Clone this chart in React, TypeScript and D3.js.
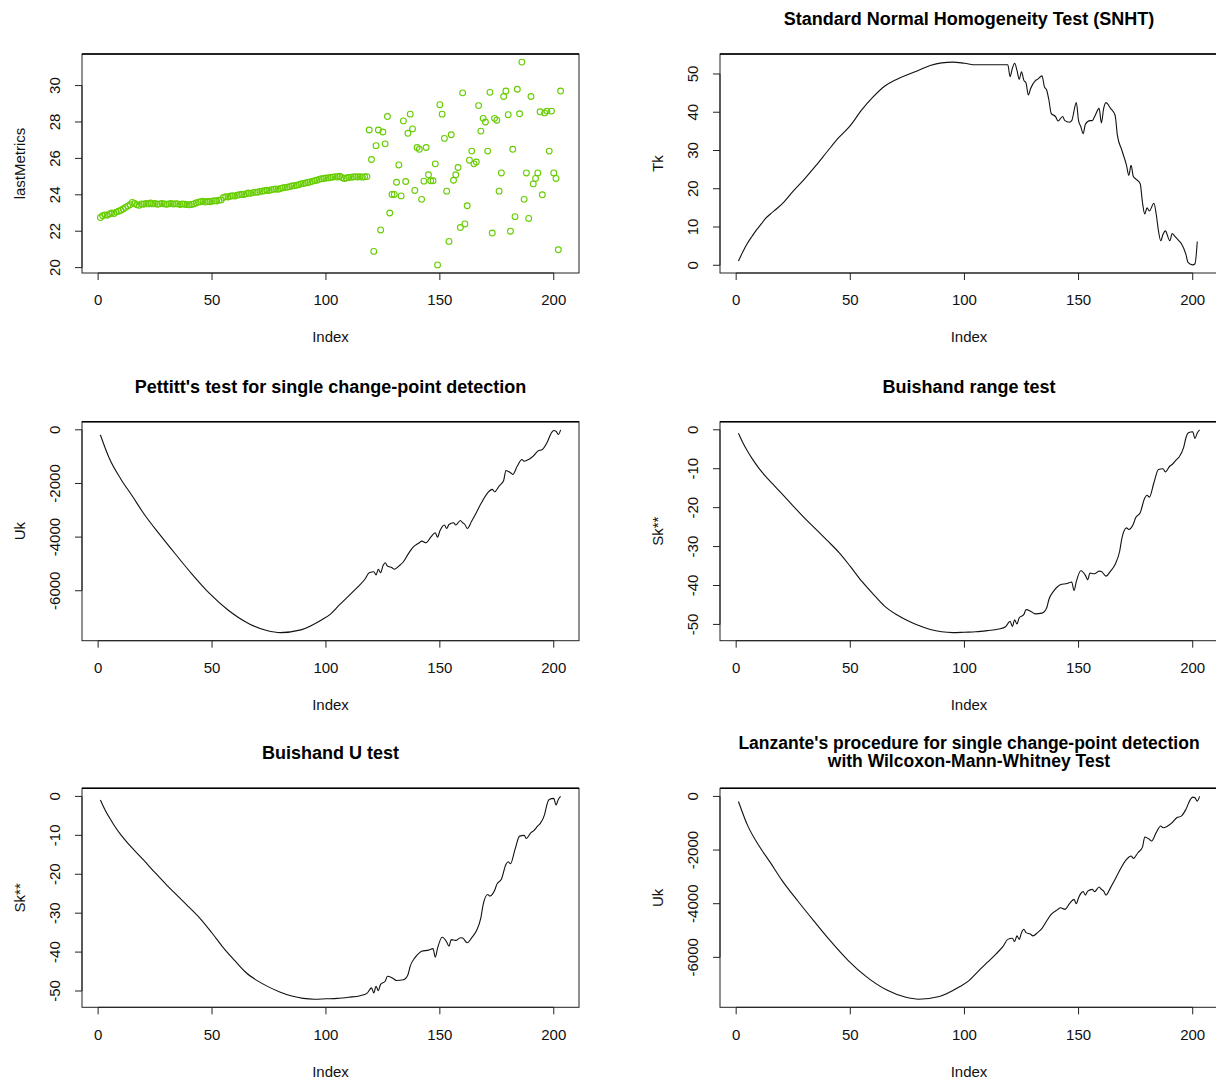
import React from "react";
import * as d3 from "d3";

// ---------- data ----------
const lastMetrics = [
  22.75, 22.85, 22.9, 22.88, 22.95, 23.0, 22.97, 23.05, 23.1, 23.15,
  23.22, 23.3, 23.38, 23.45, 23.58, 23.52, 23.45, 23.42, 23.5, 23.48,
  23.52, 23.5, 23.55, 23.5, 23.52, 23.48, 23.5, 23.53, 23.5, 23.48,
  23.5, 23.52, 23.49, 23.51, 23.5, 23.47, 23.5, 23.48, 23.46, 23.45,
  23.47, 23.5, 23.55, 23.6, 23.62, 23.65, 23.6, 23.63, 23.62, 23.65,
  23.68, 23.66, 23.7, 23.72, 23.85, 23.9, 23.88, 23.92, 23.95, 23.93,
  23.98, 24.0, 24.03, 24.02, 24.06, 24.1, 24.08, 24.12, 24.15, 24.14,
  24.18, 24.2, 24.22, 24.25, 24.23, 24.28, 24.3, 24.32, 24.3, 24.35,
  24.38, 24.4, 24.42, 24.45, 24.48, 24.5, 24.52, 24.55, 24.6, 24.62,
  24.65, 24.68, 24.7, 24.74, 24.78, 24.8, 24.85, 24.88, 24.9, 24.92,
  24.93, 24.95, 24.97, 25.0, 24.98, 25.02, 24.95, 24.9, 24.92, 24.95,
  24.97, 24.98, 25.0, 24.98, 25.0, 24.97, 24.99, 25.0,
  27.56, 25.94, 20.89, 26.7, 27.56, 22.07, 27.45, 26.8, 28.3, 23.0,
  24.02, 24.02, 24.69, 25.64, 23.94, 28.06, 24.73, 27.38, 28.43, 27.62,
  24.24, 26.6, 26.5, 23.75, 24.75, 26.6, 25.1, 24.77, 24.77, 25.7,
  20.15, 28.95, 28.43, 27.1, 24.2, 21.44, 27.3, 24.8, 25.1, 25.5,
  22.2, 29.6, 22.4, 23.4, 25.9, 26.4, 25.7, 25.8, 28.9, 27.5,
  28.2, 28.0, 26.4, 29.63, 21.9, 28.2, 28.1, 24.2, 25.2, 29.4,
  29.7, 28.4, 22.0, 26.5, 22.8, 29.8, 28.45, 31.29, 23.75, 25.2,
  22.7, 29.4, 24.6, 24.9, 25.2, 28.56, 24.0, 28.5, 28.6, 26.4,
  28.6, 25.2, 24.9, 20.98, 29.7,
];
const lastMetricsIndex = lastMetrics.map((_, i) => i + 1);

const snhtIndex = [1,3,5,7,9,11,13,15,18,21,25,30,35,40,45,50,55,60,65,70,75,80,85,90,95,100,105,110,115,119,120,121,122,123,124,125,126,127,128,129,131,132,134,135,136,137,138,140,141,143,144,146,147,149,150,151,152,153,155,156,157,159,160,161,162,164,166,167,169,171,172,173,174,175,177,178,179,180,181,183,184,185,186,187,188,190,191,192,194,195,197,198,200,201,202];
const snhtTk = [1.1,3.6,5.8,7.6,9.3,10.8,12.3,13.4,14.9,16.6,19.4,22.6,26.1,29.8,33.4,36.5,40.6,44.0,46.8,48.5,49.8,51.0,52.2,52.9,53.1,52.8,52.4,52.4,52.4,52.4,49.3,51.5,52.8,51.0,48.6,50.6,48.4,47.6,44.5,46.2,48.2,48.6,49.5,46.7,45.8,43.2,39.7,38.8,37.7,38.9,37.8,37.4,37.8,42.5,37.8,36.2,34.4,36.9,37.8,37.8,38.8,41.0,37.2,41.0,42.5,41.0,39.2,34.0,30.0,26.1,23.5,26.1,23.2,22.6,21.3,16.4,13.4,15.0,14.2,16.2,13.4,9.0,6.4,8.1,9.0,6.4,8.3,7.7,6.4,5.7,2.9,0.7,0.1,0.4,6.2];

const pettittIndex = [1,5,10,15,20,27,34,41,49,57,66,74,80,89,98,102,106,110,114,117,119,121,122,123,124,125,126,127,129,130,132,134,136,138,141,142,144,146,148,149,150,152,153,154,156,157,159,160,161,162,164,166,168,171,173,174,176,178,179,181,182,184,186,187,189,191,193,195,197,199,200,201,202,203];
const pettittUk = [-190,-1080,-1840,-2470,-3120,-3900,-4640,-5360,-6110,-6720,-7220,-7480,-7560,-7460,-7090,-6870,-6520,-6190,-5860,-5580,-5330,-5290,-5410,-5200,-5330,-5080,-4955,-5080,-5140,-5200,-5080,-4920,-4645,-4400,-4210,-4150,-4210,-4000,-3840,-4000,-3775,-3550,-3680,-3530,-3465,-3550,-3380,-3465,-3530,-3680,-3400,-3090,-2760,-2350,-2220,-2310,-2100,-1890,-1515,-1600,-1665,-1350,-1105,-1170,-1105,-980,-795,-735,-485,-110,-25,-50,-175,0];

const buishandIndex = [1,3,5,7,10,13,16,20,25,30,35,40,45,50,55,60,65,70,75,80,85,90,95,100,105,110,115,118,120,121,122,123,124,126,127,129,131,134,136,137,139,141,142,145,147,148,149,151,153,154,155,157,159,160,162,164,166,168,169,171,172,174,175,177,179,180,181,183,185,187,188,190,191,193,194,196,197,198,200,201,202,203];
const buishandSk = [-0.9,-3.4,-5.5,-7.4,-9.9,-12.0,-13.9,-16.4,-19.6,-22.7,-25.6,-28.5,-31.5,-35.1,-38.9,-42.2,-45.3,-47.4,-49.0,-50.3,-51.3,-51.9,-52.1,-52.0,-51.9,-51.6,-51.2,-50.6,-49.2,-50.5,-48.8,-49.9,-48.3,-47.5,-46.2,-46.6,-47.3,-47.1,-45.8,-43.6,-41.5,-40.2,-39.8,-39.5,-39.1,-41.3,-39.0,-36.2,-37.4,-38.5,-36.8,-37.0,-36.3,-36.4,-37.6,-36.3,-34.6,-31.2,-27.8,-25.2,-25.6,-24.2,-22.6,-21.3,-17.5,-16.8,-17.3,-13.6,-10.2,-10.0,-10.8,-9.3,-8.9,-7.6,-7.0,-4.6,-2.1,-0.8,-0.5,-2.2,-0.8,0.0];

// Lanzante and Buishand U panels show the same curves as Pettitt and Buishand range
const lanzanteIndex = pettittIndex;
const lanzanteUk = pettittUk;
const buishandUIndex = buishandIndex;
const buishandUSk = buishandSk;

const indexTicks = [0, 50, 100, 150, 200];
const lastMetricsTicks = [20, 22, 24, 26, 28, 30];
const tkTicks = [0, 10, 20, 30, 40, 50];
const ukTicks = [0, -2000, -4000, -6000];
const skTicks = [0, -10, -20, -30, -40, -50];

const titles = {
  snht: ["Standard Normal Homogeneity Test (SNHT)"],
  pettitt: ["Pettitt's test for single change-point detection"],
  buishandRange: ["Buishand range test"],
  buishandU: ["Buishand U test"],
  lanzante: ["Lanzante's procedure for single change-point detection", "with Wilcoxon-Mann-Whitney Test"],
};

// ---------- layout ----------
const W = 1216;
const H = 1080;
const colLeft = [82, 720];
const colWidth = [497, 498];
const rowTop = [54, 421.7, 788.3];
const panelH = 219;
const FONT = "'Liberation Sans', Arial, Helvetica, sans-serif";

function extendR(ext: [number, number]): [number, number] {
  const d = (ext[1] - ext[0]) * 0.04;
  return [ext[0] - d, ext[1] + d];
}

type Spec = {
  col: number;
  row: number;
  title: string[];
  ylab: string;
  xs: number[];
  ys: number[];
  yTicks: number[];
  kind: "points" | "line";
};

function Panel({ spec }: { spec: Spec }) {
  const left = colLeft[spec.col];
  const width = colWidth[spec.col];
  const top = rowTop[spec.row];
  const bottom = top + panelH;
  const x = d3.scaleLinear().domain(extendR([1, 203])).range([left, left + width]);
  const yExt = d3.extent(spec.ys) as [number, number];
  const y = d3.scaleLinear().domain(extendR(yExt)).range([bottom, top]);
  const line = d3
    .line<number>()
    .x((_, i) => x(spec.xs[i]))
    .y((d) => y(d))
    .curve(d3.curveMonotoneX);
  const cx = left + width / 2;
  const tickLen = 7;
  const yt = spec.yTicks;
  return (
    <g>
      {spec.title.length === 1 ? (
        <text x={cx} y={top - 35.5} dy="0.35em" textAnchor="middle" fontWeight="bold" fontSize={18} fill="#000">
          {spec.title[0]}
        </text>
      ) : (
        spec.title.map((t, i) => (
          <text key={i} x={cx} y={top - 45 + i * 18} dy="0.35em" textAnchor="middle" fontWeight="bold" fontSize={17.5} fill="#000">
            {t}
          </text>
        ))
      )}
      {spec.kind === "line" ? (
        <path d={line(spec.ys) || ""} fill="none" stroke="#111" strokeWidth={1.1} strokeLinejoin="round" />
      ) : (
        spec.ys.map((v, i) => (
          <circle key={i} cx={x(spec.xs[i])} cy={y(v)} r={2.9} fill="none" stroke="#66CD00" strokeWidth={1.1} />
        ))
      )}
      <rect x={left} y={top} width={width} height={panelH} fill="none" stroke="#222" strokeWidth={1} />
      <line x1={left} x2={left + width} y1={top} y2={top} stroke="#000" strokeWidth={1.6} />
      {/* x axis */}
      <line x1={x(indexTicks[0])} x2={x(indexTicks[indexTicks.length - 1])} y1={bottom} y2={bottom} stroke="#222" />
      {indexTicks.map((t) => (
        <g key={"x" + t}>
          <line x1={x(t)} x2={x(t)} y1={bottom} y2={bottom + tickLen} stroke="#222" />
          <text x={x(t)} y={bottom + 27} dy="0.35em" textAnchor="middle" fontSize={15} fill="#111">
            {t}
          </text>
        </g>
      ))}
      <text x={cx} y={bottom + 64} dy="0.35em" textAnchor="middle" fontSize={15} fill="#111">
        Index
      </text>
      {/* y axis */}
      <line x1={left} x2={left} y1={y(yt[0])} y2={y(yt[yt.length - 1])} stroke="#222" />
      {yt.map((t) => (
        <g key={"y" + t}>
          <line x1={left - tickLen} x2={left} y1={y(t)} y2={y(t)} stroke="#222" />
          <text
            transform={`translate(${left - 27},${y(t)}) rotate(-90)`}
            dy="0.35em"
            textAnchor="middle"
            fontSize={15}
            fill="#111"
          >
            {t}
          </text>
        </g>
      ))}
      <text
        transform={`translate(${left - 62},${top + panelH / 2}) rotate(-90)`}
        dy="0.35em"
        textAnchor="middle"
        fontSize={15}
        fill="#111"
      >
        {spec.ylab}
      </text>
    </g>
  );
}

const specs: Spec[] = [
  { col: 0, row: 0, title: [], ylab: "lastMetrics", xs: lastMetricsIndex, ys: lastMetrics, yTicks: lastMetricsTicks, kind: "points" },
  { col: 1, row: 0, title: titles.snht, ylab: "Tk", xs: snhtIndex, ys: snhtTk, yTicks: tkTicks, kind: "line" },
  { col: 0, row: 1, title: titles.pettitt, ylab: "Uk", xs: pettittIndex, ys: pettittUk, yTicks: ukTicks, kind: "line" },
  { col: 1, row: 1, title: titles.buishandRange, ylab: "Sk**", xs: buishandIndex, ys: buishandSk, yTicks: skTicks, kind: "line" },
  { col: 0, row: 2, title: titles.buishandU, ylab: "Sk**", xs: buishandUIndex, ys: buishandUSk, yTicks: skTicks, kind: "line" },
  { col: 1, row: 2, title: titles.lanzante, ylab: "Uk", xs: lanzanteIndex, ys: lanzanteUk, yTicks: ukTicks, kind: "line" },
];

export default function App() {
  return (
    <svg
      width={W}
      height={H}
      viewBox={`0 0 ${W} ${H}`}
      style={{ position: "absolute", left: 0, top: 0, background: "#fff" }}
      fontFamily={FONT}
    >
      <rect x={0} y={0} width={W} height={H} fill="#fff" />
      {specs.map((s, i) => (
        <Panel key={i} spec={s} />
      ))}
    </svg>
  );
}
